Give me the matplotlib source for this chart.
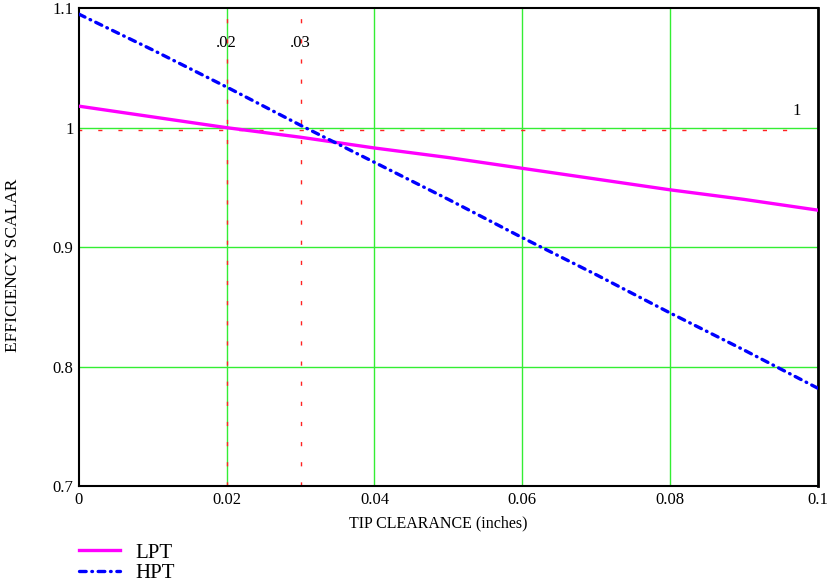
import matplotlib
matplotlib.use('Agg')
import matplotlib.pyplot as plt

# values
tip_clearance = [0.0, 0.01, 0.02, 0.03, 0.04, 0.05, 0.06, 0.07, 0.08, 0.09, 0.1]
lpt = [1.018, 1.009, 1.000, 0.992, 0.983, 0.975, 0.966, 0.957, 0.948, 0.940, 0.931]
hpt = [1.095, 1.065, 1.034, 1.002, 0.971, 0.940, 0.908, 0.877, 0.845, 0.814, 0.782]

marker_x = [0.02, 0.03]
marker_x_labels = ['.02', '.03']
marker_y = 1.0
marker_y_label = '1'

x_ticks = [0, 0.02, 0.04, 0.06, 0.08, 0.1]
x_tick_labels = ['0', '0.02', '0.04', '0.06', '0.08', '0.1']
y_ticks = [0.7, 0.8, 0.9, 1.0, 1.1]
y_tick_labels = ['0.7', '0.8', '0.9', '1', '1.1']

plt.rcParams['font.family'] = ['Liberation Serif', 'DejaVu Serif']

fig = plt.figure(figsize=(8.31, 5.85), dpi=100)
ax = fig.add_axes([0.095, 0.169, 0.889, 0.817])

grid_green = '#33ee33'
marker_red = '#ff2222'
for xv in x_ticks[1:]:
    ax.axvline(xv, color=grid_green, lw=1.0, zorder=1)
for yv in y_ticks[1:-1]:
    ax.axhline(yv, color=grid_green, lw=1.0, zorder=1)

for xv, lab in zip(marker_x, marker_x_labels):
    ax.axvline(xv, color=marker_red, lw=1.0, ls=(0, (3, 11.5)), zorder=2)
    ax.text(xv, 1.0707, lab, ha='center', va='center', fontsize=12)
ax.plot([0, 0.097], [marker_y - 0.0016, marker_y - 0.0016], color=marker_red, lw=1.0,
        ls=(1, (3, 11.5)), zorder=2)
ax.text(0.0972, 1.0138, marker_y_label, ha='center', va='center', fontsize=12)

l1, = ax.plot(tip_clearance, lpt, color='#ff00ff', lw=2.4, zorder=3, label='LPT')
l2, = ax.plot(tip_clearance, hpt, color='#0000ff', lw=2.4, zorder=3, label='HPT',
              ls=(0, (2.0, 1.7, 0.2, 1.7)), dash_capstyle='round')

ax.set_xlim(0, 0.1)
ax.set_ylim(0.7, 1.1)
ax.set_xticks(x_ticks)
ax.set_xticklabels(x_tick_labels, fontsize=12)
ax.set_yticks(y_ticks)
ax.set_yticklabels(y_tick_labels, fontsize=12)
ax.tick_params(length=0, pad=4)
for side in ['left', 'bottom', 'top']:
    ax.spines[side].set_linewidth(1.5)
ax.spines['right'].set_linewidth(2.0)

fig.text(0.527, 0.105, 'TIP CLEARANCE (inches)', fontsize=11.5, ha='center', va='center')
fig.text(0.0155, 0.547, 'EFFICIENCY SCALAR', fontsize=12.5, ha='center', va='center',
         rotation=90)

fig.legend(handles=[l1, l2], loc='upper left', bbox_to_anchor=(0.085, 0.086),
           frameon=False, fontsize=15, handlelength=1.95, labelspacing=0.05,
           borderaxespad=0, handletextpad=0.75)

fig.savefig('out.png', dpi=100)
